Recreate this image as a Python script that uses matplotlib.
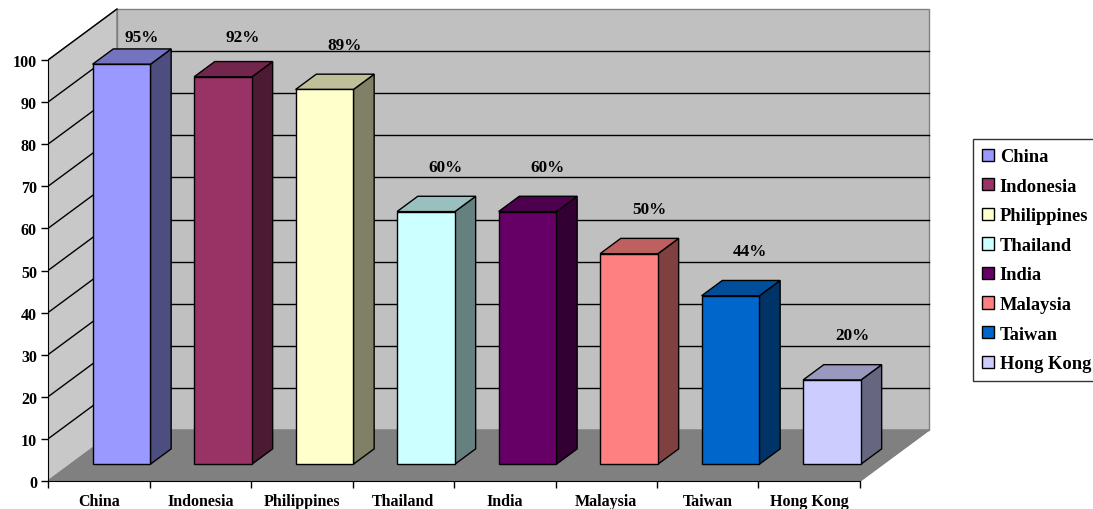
import matplotlib
matplotlib.use("Agg")
import matplotlib.pyplot as plt
from matplotlib.patches import Polygon
import matplotlib.patches as mpatches

categories = ["China", "Indonesia", "Philippines", "Thailand", "India", "Malaysia", "Taiwan", "Hong Kong"]
values = [95, 92, 89, 60, 60, 50, 40, 20]
value_labels = ["95%", "92%", "89%", "60%", "60%", "50%", "44%", "20%"]
colors = ["#9999FF", "#993366", "#FFFFCC", "#CCFFFF", "#660066", "#FF8080", "#0066CC", "#CCCCFF"]
yticks = list(range(0, 101, 10))

plt.rcParams['font.family'] = ['Liberation Serif', 'DejaVu Serif']
plt.rcParams['font.weight'] = 'bold'
FS = 11.5

W, H = 1093, 510
fig = plt.figure(figsize=(W / 100, H / 100), dpi=100)
px_per_cat = 101.5
px_per_val = 4.21
ax = fig.add_axes([48 / W, 28 / H, 9 * px_per_cat / W, 114 * px_per_val / H])
ax.set_xlim(-0.5, 8.5)
ax.set_ylim(0, 114)

DX, DY = 69 / px_per_cat, 51 / px_per_val
n = len(categories)
x0, x1 = -0.5, n - 0.5
vmax = 100

def P(x, v, d):
    return (x + DX * d, v + DY * d)

wall = "#C0C0C0"
edge_gray = "#808080"
# side wall
ax.add_patch(Polygon([P(x0, 0, 0), P(x0, 0, 1), P(x0, vmax, 1), P(x0, vmax, 0)],
                     closed=True, facecolor="#C8C8C8", edgecolor=edge_gray, lw=1, zorder=1))
# back wall
ax.add_patch(Polygon([P(x0, 0, 1), P(x1, 0, 1), P(x1, vmax, 1), P(x0, vmax, 1)],
                     closed=True, facecolor=wall, edgecolor=edge_gray, lw=1, zorder=1))
# floor
ax.add_patch(Polygon([P(x0, 0, 0), P(x1, 0, 0), P(x1, 0, 1), P(x0, 0, 1)],
                     closed=True, facecolor="#808080", edgecolor=edge_gray, lw=1, zorder=1))
# gridlines
for t in yticks[1:-1]:
    a, b = P(x0, t, 1), P(x1, t, 1)
    ax.plot([a[0], b[0]], [a[1], b[1]], color="black", lw=1, zorder=2)
for t in yticks[1:]:
    a, b = P(x0, t, 0), P(x0, t, 1)
    ax.plot([a[0], b[0]], [a[1], b[1]], color="black", lw=1, zorder=2)

def shade(c, f):
    r, g, b = matplotlib.colors.to_rgb(c)
    return (r * f, g * f, b * f)

d0, d1 = 0.33, 0.63
hw = 0.285
for i, (v, c, lab) in enumerate(zip(values, colors, value_labels)):
    xl, xr = i - hw, i + hw
    front = [P(xl, 0, d0), P(xr, 0, d0), P(xr, v, d0), P(xl, v, d0)]
    top = [P(xl, v, d0), P(xr, v, d0), P(xr, v, d1), P(xl, v, d1)]
    side = [P(xr, 0, d0), P(xr, 0, d1), P(xr, v, d1), P(xr, v, d0)]
    ax.add_patch(Polygon(side, closed=True, facecolor=shade(c, 0.5), edgecolor="black", lw=1, zorder=3))
    ax.add_patch(Polygon(top, closed=True, facecolor=shade(c, 0.75), edgecolor="black", lw=1, zorder=3))
    ax.add_patch(Polygon(front, closed=True, facecolor=c, edgecolor="black", lw=1, zorder=4))
    ly = min(v + DY + 2.5, 105.5)
    ax.text(i + 0.42, ly, lab, ha="center", va="center", fontsize=FS + 0.8, fontweight="bold", zorder=5)

# floor right edge
a, b = P(x1, 0, 0), P(x1, 0, 1)
ax.plot([a[0], b[0]], [a[1], b[1]], color=edge_gray, lw=1, zorder=2)

# axes
for s in ["top", "right"]:
    ax.spines[s].set_visible(False)
ax.spines["left"].set_bounds(0, vmax)
ax.spines["bottom"].set_bounds(x0, x1)
ax.spines["left"].set_zorder(6)
ax.spines["bottom"].set_zorder(6)
ax.set_yticks(yticks)
ax.set_yticklabels([str(t) for t in yticks], fontsize=FS, fontweight="bold")
ax.tick_params(axis="y", direction="out", length=5, width=1, pad=3)
ax.set_xticks([k - 0.5 for k in range(n + 1)])
ax.set_xticklabels([])
ax.set_xticks(list(range(n)), minor=True)
ax.set_xticklabels(categories, minor=True, fontsize=FS, fontweight="bold")
ax.tick_params(axis="x", which="major", direction="out", length=5, width=1)
ax.tick_params(axis="x", which="minor", length=0, pad=8.5)
ax.patch.set_visible(False)

handles = [mpatches.Patch(facecolor=c, edgecolor="black", lw=1, label=cat) for c, cat in zip(colors, categories)]
leg = fig.legend(handles=handles, loc="upper left", bbox_to_anchor=(973 / W, 1 - 140 / H),
                 frameon=True, fancybox=False, edgecolor="black",
                 prop={"weight": "bold", "size": 13.3},
                 handlelength=0.65, handleheight=0.65, handletextpad=0.3, labelspacing=0.68,
                 borderpad=0.5, borderaxespad=0)
leg.get_frame().set_linewidth(1)

fig.savefig("out.png", dpi=100, facecolor="white")
